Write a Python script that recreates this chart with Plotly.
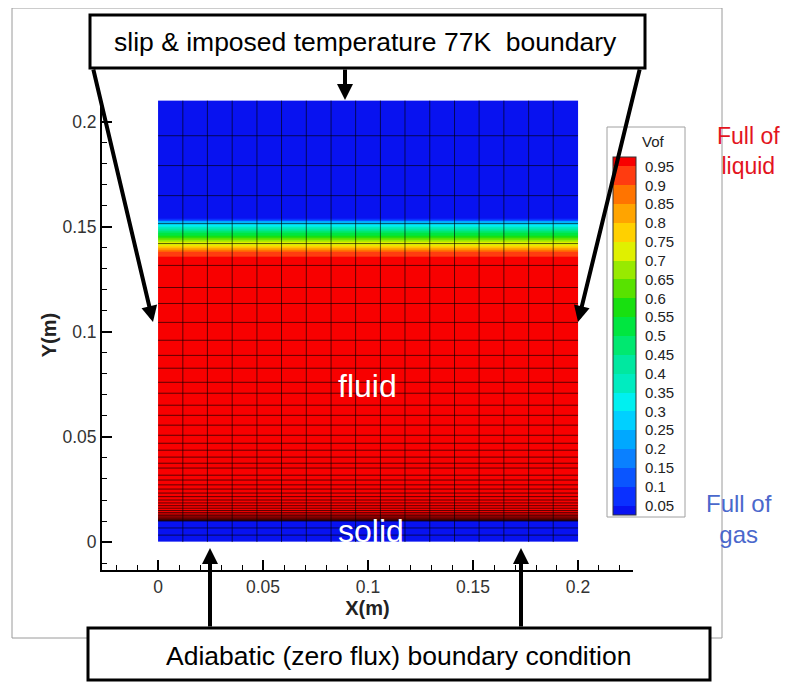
import plotly.graph_objects as go

# ---------------- data ----------------
# Vof profile (uniform along x): cell edges in y (m) and Vof per cell
vof_y_edges = [0.0, 0.010, 0.135, 0.136, 0.137, 0.138, 0.139, 0.140, 0.141, 0.142,
               0.143, 0.144, 0.145, 0.146, 0.147, 0.148, 0.149, 0.150, 0.151, 0.152,
               0.153, 0.154, 0.210]
vof_values = [0.0, 1.0, 0.97, 0.94, 0.90, 0.86, 0.82, 0.77, 0.73, 0.70, 0.66, 0.61,
              0.56, 0.51, 0.46, 0.41, 0.36, 0.32, 0.28, 0.20, 0.08, 0.01]
domain_x = [0.0, 0.2]

# mesh lines (m)
mesh_x_lines = [0.0118, 0.0235, 0.0353, 0.0471, 0.0588, 0.0706, 0.0824, 0.0941,
                0.1059, 0.1176, 0.1294, 0.1412, 0.1529, 0.1647, 0.1765, 0.1882]
mesh_y_lines = [0.0033, 0.0067,
                0.0100, 0.0102, 0.0104, 0.0107, 0.0111, 0.0115, 0.0120, 0.0126,
                0.0133, 0.0141, 0.0150, 0.0161, 0.0173, 0.0186, 0.0200, 0.0216,
                0.0233, 0.0252, 0.0272, 0.0295, 0.0318, 0.0352, 0.0375, 0.0404,
                0.0437, 0.0470, 0.0508, 0.0556, 0.0603, 0.0651, 0.0708, 0.0760,
                0.0827, 0.0888, 0.0960, 0.1045, 0.1135, 0.1211, 0.1316, 0.1420,
                0.1515, 0.1648, 0.1791, 0.1933]

# contour levels and band colours (bottom -> top)
level_values = [0.05, 0.1, 0.15, 0.2, 0.25, 0.3, 0.35, 0.4, 0.45, 0.5, 0.55, 0.6,
                0.65, 0.7, 0.75, 0.8, 0.85, 0.9, 0.95]
level_labels = ["0.05", "0.1", "0.15", "0.2", "0.25", "0.3", "0.35", "0.4", "0.45",
                "0.5", "0.55", "0.6", "0.65", "0.7", "0.75", "0.8", "0.85", "0.9", "0.95"]
band_colors = ["#0812f0", "#0a30ff", "#0a55ff", "#0a80ff", "#00a8ff", "#00d0ff",
               "#00f0f0", "#00ecc0", "#00e8a0", "#00e870", "#00e640", "#18e010",
               "#58e200", "#98ea00", "#e0f000", "#ffd000", "#ffa400", "#ff7400",
               "#ff3c10", "#f80000"]
cb_min, cb_max = 0.025, 0.975

x_ticks = [0, 0.05, 0.1, 0.15, 0.2]
x_tick_labels = ["0", "0.05", "0.1", "0.15", "0.2"]
y_ticks = [0, 0.05, 0.1, 0.15, 0.2]
y_tick_labels = ["0", "0.05", "0.1", "0.15", "0.2"]

# ---------------- figure ----------------
OFF = 8                      # page body margin
W, H = 789 - OFF, 682 - OFF
def px(v): return (v - OFF) / W
def py(v): return 1 - (v - OFF) / H

# stepwise colourscale
bounds = [cb_min] + level_values + [cb_max]
colorscale = []
for i, c in enumerate(band_colors):
    t0 = (bounds[i] - cb_min) / (cb_max - cb_min)
    t1 = (bounds[i + 1] - cb_min) / (cb_max - cb_min)
    colorscale.append([t0, c])
    colorscale.append([t1, c])

FONT = "Liberation Sans, Arial, sans-serif"
CB_X0, CB_X1, CB_Y0, CB_Y1 = 613, 636, 515, 157   # legend strip (screen px)

fig = go.Figure()
fig.add_trace(go.Heatmap(
    x=domain_x, y=vof_y_edges, z=[[v] for v in vof_values],
    zmin=cb_min, zmax=cb_max, colorscale=colorscale, hoverinfo="skip",
    colorbar=dict(
        tickvals=level_values, ticktext=level_labels,
        ticks="outside", ticklen=6, tickcolor="rgba(0,0,0,0)",
        tickfont=dict(size=15, color="#222", family=FONT),
        thickness=CB_X1 - CB_X0, thicknessmode="pixels",
        len=(CB_Y0 - CB_Y1) / H, lenmode="fraction",
        x=px(CB_X0), xanchor="left", xpad=0,
        y=py(CB_Y0), yanchor="bottom", ypad=0,
        outlinecolor="#333", outlinewidth=1,
        borderwidth=0, bgcolor="rgba(0,0,0,0)",
    ),
))

# mesh lines
mx, my = [], []
for xv in mesh_x_lines:
    mx += [xv, xv, None]
    my += [vof_y_edges[0], vof_y_edges[-1], None]
for yv in mesh_y_lines:
    mx += [domain_x[0], domain_x[1], None]
    my += [yv, yv, None]
fig.add_trace(go.Scatter(x=mx, y=my, mode="lines", hoverinfo="skip",
                         line=dict(color="rgba(0,0,0,0.62)", width=1), showlegend=False))

# separators between legend bands (on an overlay axis matching the strip)
sx, sy = [], []
for lv in level_values:
    sx += [0, 1, None]
    sy += [lv, lv, None]
fig.add_trace(go.Scatter(x=sx, y=sy, mode="lines", hoverinfo="skip", xaxis="x2", yaxis="y2",
                         line=dict(color="rgba(0,0,0,0.45)", width=1), showlegend=False))

axis_common = dict(showline=True, linecolor="black", linewidth=2, ticks="inside",
                   ticklen=10, tickwidth=2, tickcolor="black", showgrid=False,
                   zeroline=False, tickfont=dict(size=17.5, color="#333", family=FONT),
                   minor=dict(dtick=0.01, ticks="inside", ticklen=5, tickwidth=1,
                              tickcolor="black", showgrid=False))

fig.update_layout(
    width=W, height=H, autosize=False,
    margin=dict(l=0, r=0, t=0, b=0),
    paper_bgcolor="white", plot_bgcolor="rgba(0,0,0,0)", showlegend=False,
    font=dict(family=FONT),
    xaxis=dict(domain=[px(102), px(633)], range=[-0.0267, 0.2262],
               tickvals=x_ticks, ticktext=x_tick_labels,
               title=dict(text="<b>X(m)</b>", font=dict(size=20, color="#222"), standoff=0),
               **axis_common),
    yaxis=dict(domain=[py(570), py(100)], range=[-0.0133, 0.2103],
               tickvals=y_ticks, ticktext=y_tick_labels,
               title=dict(text="<b>Y(m)</b>", font=dict(size=20, color="#222"), standoff=0),
               **axis_common),
    xaxis2=dict(domain=[px(CB_X0), px(CB_X1)], range=[0, 1], visible=False, anchor="y2"),
    yaxis2=dict(domain=[py(CB_Y0), py(CB_Y1)], range=[cb_min, cb_max], visible=False,
                anchor="x2"),
)

shapes = [
    dict(type="rect", xref="paper", yref="paper", x0=px(12), x1=px(722), y0=py(638), y1=py(8),
         line=dict(color="#9a9a9a", width=1), fillcolor="rgba(0,0,0,0)", layer="below"),
    dict(type="rect", xref="paper", yref="paper", x0=px(607), x1=px(685), y0=py(517), y1=py(127),
         line=dict(color="#a0a0a0", width=1), fillcolor="rgba(0,0,0,0)", layer="below"),
    dict(type="rect", xref="paper", yref="paper", x0=px(90), x1=px(645), y0=py(68), y1=py(15),
         line=dict(color="black", width=3), fillcolor="white", layer="above"),
    dict(type="rect", xref="paper", yref="paper", x0=px(88), x1=px(710), y0=py(680), y1=py(628),
         line=dict(color="black", width=3), fillcolor="white", layer="above"),
]
fig.update_layout(shapes=shapes)

def label(x, y, text, size, color, **kw):
    return dict(xref="paper", yref="paper", x=px(x), y=py(y), xanchor="center",
                yanchor="middle", showarrow=False, text=text,
                font=dict(size=size, color=color, family=FONT), **kw)

ann = []
ann.append(label(653, 141, "Vof", 15, "#222"))
ann.append(label(365, 42, "slip &amp; imposed temperature 77K  boundary", 26.5, "black"))
ann.append(label(398, 656, "Adiabatic (zero flux) boundary condition", 26.5, "black"))
# arrows: tip (x, y), tail offset (ax, ay) in pixels
arrows = [((345, 100), (0, -32)), ((153, 322), (-60, -254)), ((578, 322), (62, -254)),
          ((210, 548), (0, 80)), ((521, 548), (0, 80))]
for (tx, ty), (ax, ay) in arrows:
    ann.append(dict(xref="paper", yref="paper", x=px(tx), y=py(ty), ax=ax, ay=ay,
                    text="", showarrow=True, arrowhead=2, arrowsize=0.8, arrowwidth=4,
                    arrowcolor="black", standoff=0))
ann.append(label(367, 386, "fluid", 32, "white"))
ann.append(label(371, 531, "solid", 32, "white"))
ann.append(label(748, 151, "Full of<br>liquid", 23, "#e3141e", align="center"))
ann.append(label(739, 519, "Full of<br>gas", 24, "#4a68cc", align="center"))
fig.update_layout(annotations=ann)

fig.write_html("out.html")
